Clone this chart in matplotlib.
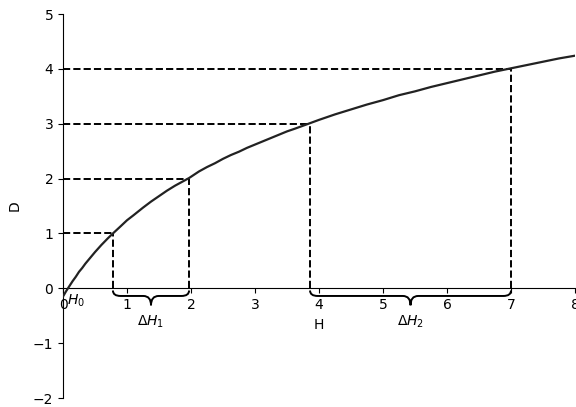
import numpy as np
import matplotlib.pyplot as plt
from matplotlib.path import Path
from matplotlib.patches import PathPatch

# curve D(H)
h_vals = [0, 0.05, 0.1, 0.15, 0.2, 0.25, 0.3, 0.35, 0.4, 0.45, 0.5, 0.6, 0.7,
          0.78, 0.9, 1.0, 1.1, 1.25, 1.375, 1.5, 1.625, 1.75, 1.97, 2.125,
          2.25, 2.375, 2.5, 2.625, 2.75, 2.875, 3.0, 3.125, 3.25, 3.375, 3.5,
          3.625, 3.86, 4.0, 4.25, 4.5, 4.75, 5.0, 5.25, 5.5, 5.75, 6.0, 6.25,
          6.5, 6.75, 7.0, 7.25, 7.5, 7.75, 8.0]
d_vals = [-0.15, -0.05, 0.04, 0.13, 0.21, 0.30, 0.37, 0.45, 0.52, 0.59, 0.66,
          0.79, 0.91, 1.00, 1.13, 1.24, 1.33, 1.47, 1.58, 1.68, 1.78, 1.87,
          2.01, 2.13, 2.21, 2.28, 2.36, 2.43, 2.49, 2.56, 2.62, 2.68, 2.74,
          2.80, 2.86, 2.91, 3.01, 3.07, 3.17, 3.26, 3.35, 3.43, 3.52, 3.59,
          3.67, 3.74, 3.81, 3.88, 3.95, 4.01, 4.07, 4.13, 4.19, 4.24]

# dashed guide points (H where D reaches 1, 2, 3, 4)
guide_h = [0.78, 1.97, 3.86, 7.0]
guide_d = [1, 2, 3, 4]

# braces under the axis
brace_from = [0.78, 3.86]
brace_to = [1.97, 7.0]
brace_labels = [r'$\Delta H_1$', r'$\Delta H_2$']

fig = plt.figure(figsize=(5.76, 4.07), dpi=100)
ax = fig.add_axes([63 / 576, 9 / 407, 512 / 576, 384 / 407])

ax.plot(h_vals, d_vals, color='#222222', lw=1.6, zorder=3,
        solid_joinstyle='round')

for h, d in zip(guide_h, guide_d):
    ax.plot([0, h], [d, d], 'k--', lw=1.4)
    ax.plot([h, h], [0, d], 'k--', lw=1.4)


def brace(x1, x2, y0=-0.04, y1=-0.14, y2=-0.31, r=0.12):
    xm = (x1 + x2) / 2
    verts = [(x1, y0), (x1, y1), (x1 + r, y1),   # left curl
             (xm - r, y1),                         # flat part
             (xm, y1), (xm, y2),                   # down to tip
             (xm, y1), (xm + r, y1),               # back up on right side
             (x2 - r, y1),
             (x2, y1), (x2, y0)]                   # right curl
    codes = [Path.MOVETO, Path.CURVE3, Path.CURVE3,
             Path.LINETO,
             Path.CURVE3, Path.CURVE3,
             Path.CURVE3, Path.CURVE3,
             Path.LINETO,
             Path.CURVE3, Path.CURVE3]
    ax.add_patch(PathPatch(Path(verts, codes), fc='none', ec='black', lw=1.4))
    return xm


for a, b, lab in zip(brace_from, brace_to, brace_labels):
    xm = brace(a, b)
    ax.text(xm, -0.62, lab, ha='center', va='center', fontsize=10)

ax.text(0.07, -0.22, r'$H_0$', ha='left', va='center', fontsize=10)

ax.set_xlim(0, 8)
ax.set_ylim(-2, 5)
ax.set_xticks(range(0, 9))
ax.set_yticks(range(-2, 6))
ax.spines['bottom'].set_position(('data', 0))
ax.spines['top'].set_visible(False)
ax.spines['right'].set_visible(False)
ax.set_xlabel('H')
ax.set_ylabel('D', labelpad=8)

fig.savefig('out.png', dpi=100)
